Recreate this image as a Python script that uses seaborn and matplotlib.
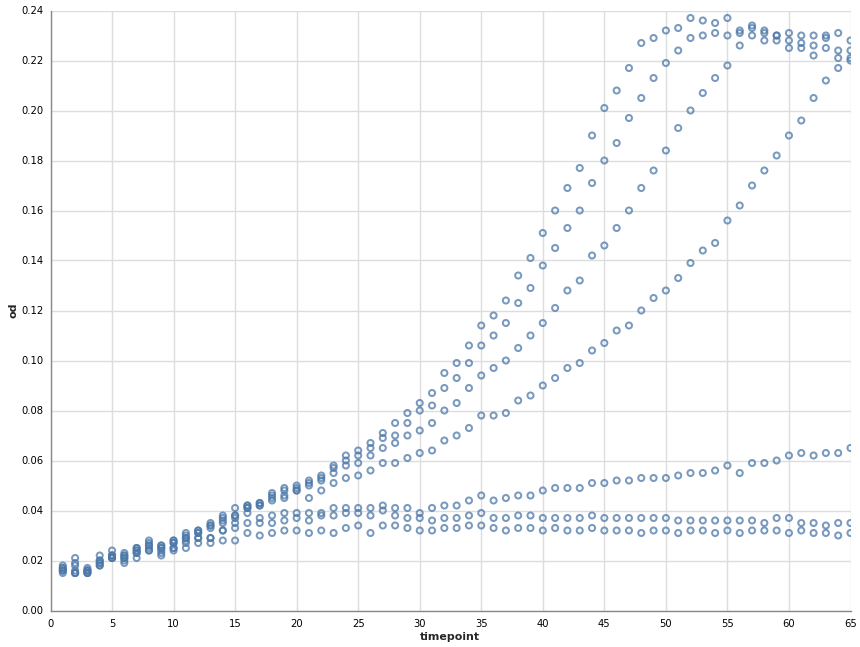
import numpy as np
import pandas as pd
import matplotlib
matplotlib.use("Agg")
import matplotlib.pyplot as plt
import seaborn as sns

timepoints = list(range(1, 66))

well_a = [0.018, 0.021, 0.017, 0.022, 0.024, 0.023, 0.025, 0.028, 0.026, 0.028,
          0.031, 0.032, 0.035, 0.038, 0.041, 0.042, 0.043, 0.047, 0.049, 0.050,
          0.052, 0.054, 0.058, 0.062, 0.064, 0.067, 0.071, 0.075, 0.079, 0.083,
          0.087, 0.095, 0.099, 0.106, 0.114, 0.118, 0.124, 0.134, 0.141, 0.151,
          0.160, 0.169, 0.177, 0.190, 0.201, 0.208, 0.217, 0.227, 0.229, 0.232,
          0.233, 0.237, 0.236, 0.235, 0.237, 0.232, 0.233, 0.231, 0.230, 0.228,
          0.227, 0.226, 0.229, 0.224, 0.224]
well_b = [0.017, 0.019, 0.016, 0.020, 0.022, 0.022, 0.025, 0.027, 0.026, 0.028,
          0.030, 0.032, 0.034, 0.037, 0.038, 0.042, 0.043, 0.046, 0.048, 0.049,
          0.051, 0.053, 0.057, 0.060, 0.062, 0.065, 0.069, 0.070, 0.075, 0.080,
          0.082, 0.089, 0.093, 0.099, 0.106, 0.110, 0.115, 0.123, 0.129, 0.138,
          0.145, 0.153, 0.160, 0.171, 0.180, 0.187, 0.197, 0.205, 0.213, 0.219,
          0.224, 0.229, 0.230, 0.231, 0.230, 0.231, 0.234, 0.232, 0.230, 0.231,
          0.230, 0.230, 0.230, 0.231, 0.228]
well_c = [0.017, 0.018, 0.016, 0.019, 0.022, 0.021, 0.024, 0.026, 0.025, 0.027,
          0.029, 0.031, 0.034, 0.036, 0.038, 0.041, 0.042, 0.045, 0.046, 0.048,
          0.050, 0.052, 0.055, 0.058, 0.059, 0.062, 0.065, 0.067, 0.070, 0.072,
          0.075, 0.080, 0.083, 0.089, 0.094, 0.097, 0.100, 0.105, 0.110, 0.115,
          0.121, 0.128, 0.132, 0.142, 0.146, 0.153, 0.160, 0.169, 0.176, 0.184,
          0.193, 0.200, 0.207, 0.213, 0.218, 0.226, 0.230, 0.228, 0.228, 0.225,
          0.225, 0.222, 0.225, 0.221, 0.221]
well_d = [0.016, 0.016, 0.015, 0.018, 0.021, 0.020, 0.023, 0.025, 0.024, 0.027,
          0.029, 0.031, 0.033, 0.035, 0.037, 0.041, 0.042, 0.044, 0.045, 0.048,
          0.045, 0.048, 0.051, 0.053, 0.054, 0.056, 0.059, 0.059, 0.061, 0.063,
          0.064, 0.068, 0.070, 0.073, 0.078, 0.078, 0.079, 0.084, 0.086, 0.090,
          0.093, 0.097, 0.099, 0.104, 0.107, 0.112, 0.114, 0.120, 0.125, 0.128,
          0.133, 0.139, 0.144, 0.147, 0.156, 0.162, 0.170, 0.176, 0.182, 0.190,
          0.196, 0.205, 0.212, 0.217, 0.220]
well_e = [0.016, 0.015, 0.016, 0.018, 0.021, 0.019, 0.021, 0.024, 0.022, 0.025,
          0.027, 0.029, 0.029, 0.032, 0.035, 0.039, 0.037, 0.038, 0.039, 0.039,
          0.039, 0.039, 0.041, 0.041, 0.041, 0.041, 0.042, 0.041, 0.041, 0.039,
          0.041, 0.042, 0.042, 0.044, 0.046, 0.044, 0.045, 0.046, 0.046, 0.048,
          0.049, 0.049, 0.049, 0.051, 0.051, 0.052, 0.052, 0.053, 0.053, 0.053,
          0.054, 0.055, 0.055, 0.056, 0.058, 0.055, 0.059, 0.059, 0.060, 0.062,
          0.063, 0.062, 0.063, 0.063, 0.065]
well_f = [0.015, 0.015, 0.015, 0.019, 0.021, 0.021, 0.024, 0.024, 0.023, 0.024,
          0.028, 0.029, 0.029, 0.032, 0.033, 0.035, 0.035, 0.035, 0.036, 0.037,
          0.036, 0.038, 0.038, 0.039, 0.039, 0.038, 0.040, 0.038, 0.037, 0.037,
          0.036, 0.037, 0.037, 0.038, 0.039, 0.037, 0.037, 0.038, 0.038, 0.037,
          0.037, 0.037, 0.037, 0.038, 0.037, 0.037, 0.037, 0.037, 0.037, 0.037,
          0.036, 0.036, 0.036, 0.036, 0.036, 0.036, 0.036, 0.035, 0.037, 0.037,
          0.035, 0.035, 0.034, 0.035, 0.035]
well_g = [0.016, 0.015, 0.015, 0.020, 0.022, 0.022, 0.023, 0.026, 0.025, 0.025,
          0.025, 0.027, 0.027, 0.028, 0.028, 0.031, 0.030, 0.031, 0.032, 0.032,
          0.031, 0.032, 0.031, 0.033, 0.034, 0.031, 0.034, 0.034, 0.033, 0.032,
          0.032, 0.033, 0.033, 0.034, 0.034, 0.033, 0.032, 0.033, 0.033, 0.032,
          0.033, 0.032, 0.032, 0.033, 0.032, 0.032, 0.032, 0.031, 0.032, 0.032,
          0.031, 0.032, 0.032, 0.031, 0.032, 0.031, 0.032, 0.032, 0.032, 0.031,
          0.032, 0.031, 0.031, 0.030, 0.031]

x_ticks = list(range(0, 70, 5))
y_ticks = [0.00, 0.02, 0.04, 0.06, 0.08, 0.10, 0.12, 0.14, 0.16, 0.18, 0.20, 0.22, 0.24]

series = {"A": well_a, "B": well_b, "C": well_c, "D": well_d,
          "E": well_e, "F": well_f, "G": well_g}
frames = []
for name, vals in series.items():
    frames.append(pd.DataFrame({"timepoint": timepoints, "od": vals, "well": name}))
df = pd.concat(frames, ignore_index=True)

sns.set_style("white")
plt.rcParams["font.family"] = ["DejaVu Sans"]

W, H = 860, 647
fig = plt.figure(figsize=(W / 100, H / 100), dpi=100)
L, R, T, B = 50.5, 850.5, 10.5, 610.5
ax = fig.add_axes([L / W, (H - B) / H, (R - L) / W, (B - T) / H])

color = "#4c78a8"
sns.scatterplot(data=df, x="timepoint", y="od", ax=ax, marker="o", s=19,
                facecolors="none", edgecolor=color, linewidth=1.45, alpha=0.75,
                legend=False, zorder=3)
# ensure hollow markers
for coll in ax.collections:
    coll.set_facecolor("none")
    coll.set_edgecolor(color)

ax.set_xlim(0, 65)
ax.set_ylim(0, 0.24)
ax.set_xticks(x_ticks)
ax.set_yticks(y_ticks)
ax.set_yticklabels([f"{v:.2f}" for v in y_ticks])
ax.grid(True, color="#dddddd", linewidth=1.0, zorder=0)
ax.set_axisbelow(True)

for side in ["top", "right"]:
    ax.spines[side].set_visible(False)
for side in ["left", "bottom"]:
    ax.spines[side].set_visible(True)
    ax.spines[side].set_color("#888888")
    ax.spines[side].set_linewidth(1.0)

ax.tick_params(axis="both", which="major", length=3.6, width=0.75, color="#888888",
               labelsize=7.2, labelcolor="#000000", pad=1.6, direction="out")
ax.tick_params(axis="x", pad=2.2)

ax.set_xlabel("timepoint", fontsize=7.9, fontweight="bold")
ax.set_ylabel("od", fontsize=7.9, fontweight="bold")
ax.xaxis.set_label_coords((450 - L) / (R - L), -(637 - B) / (B - T))
ax.xaxis.label.set_va("center")
ax.yaxis.set_label_coords(-(L - 13.5) / (R - L), (B - 310) / (B - T))
ax.yaxis.label.set_va("center")
ax.yaxis.label.set_ha("center")

fig.savefig("out.png", dpi=100)
